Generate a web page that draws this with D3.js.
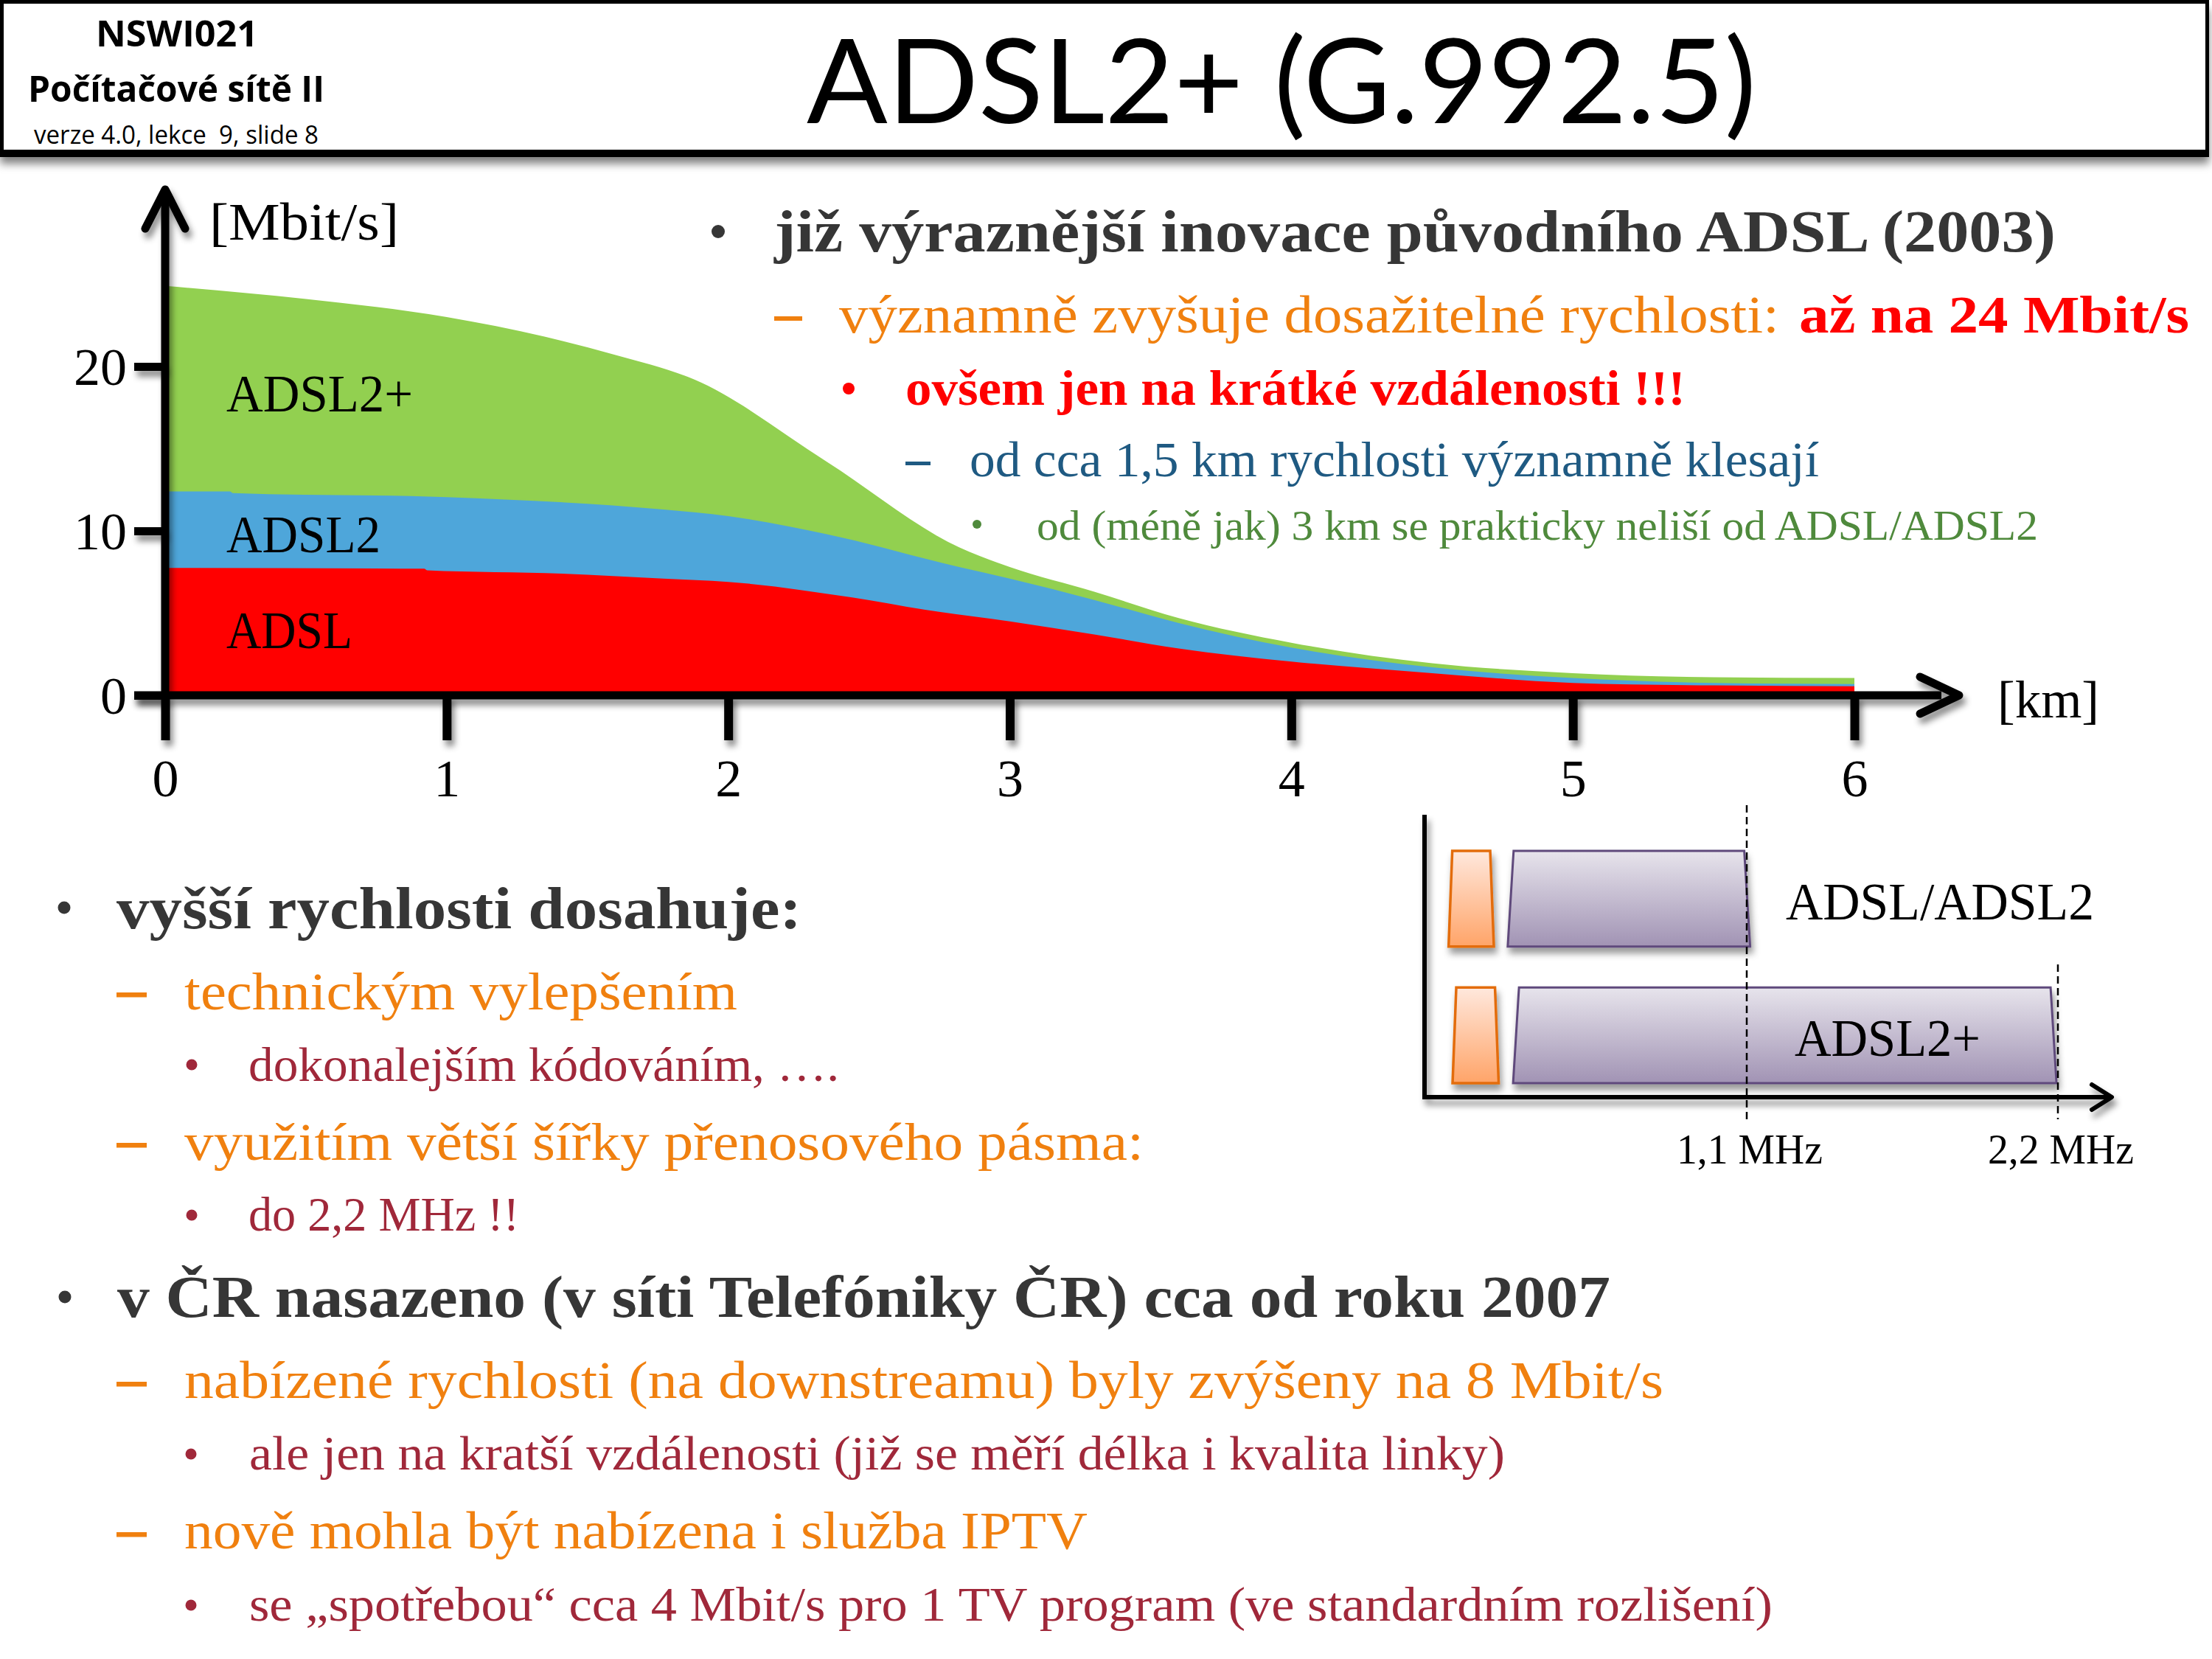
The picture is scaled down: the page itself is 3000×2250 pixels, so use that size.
<!DOCTYPE html>
<html><head><meta charset="utf-8">
<script src="https://cdn.jsdelivr.net/npm/d3@7"></script>
<style>html,body{margin:0;padding:0;background:#fff;} svg{display:block;}</style>
</head><body><div id="chart"></div>
<script>
// ---------------- DATA ----------------
const distanceTicks = [0, 1, 2, 3, 4, 5, 6];          // km
const rateTicks = [0, 10, 20];                         // Mbit/s
// [distance km, rate Mbit/s]
const adsl2plusRate = [[0,24.9],[0.5,24.1],[1.0,23.0],[1.35,21.8],[1.6,20.7],[1.88,19.2],[2.35,14.2],[2.82,9.0],[3.0,7.8],[3.3,6.3],[3.6,4.7],[4.0,3.2],[4.5,1.95],[5.0,1.35],[5.5,1.1],[6.0,1.05]];
const adsl2Rate     = [[0,12.4],[0.23,12.4],[0.24,12.3],[1.0,12.05],[1.77,11.3],[2.0,10.9],[2.35,9.8],[2.82,7.8],[3.0,7.1],[3.3,5.8],[3.6,4.4],[4.0,2.9],[4.5,1.7],[5.0,1.05],[5.5,0.75],[6.0,0.68]];
const adslRate      = [[0,7.75],[0.92,7.7],[0.93,7.6],[1.41,7.4],[1.77,7.1],[2.0,6.9],[2.44,5.95],[2.7,5.2],[3.0,4.5],[3.3,3.7],[3.6,2.85],[4.0,2.05],[4.5,1.35],[5.0,0.75],[5.5,0.6],[6.0,0.55]];
const seriesNames = ["ADSL2+", "ADSL2", "ADSL"];
const axisUnitY = "[Mbit/s]";
const axisUnitX = "[km]";

const freqMarksMHz = [1.1, 2.2];
const freqMarkLabels = ["1,1 MHz", "2,2 MHz"];
const spectrumRows = ["ADSL/ADSL2", "ADSL2+"];
const upstreamBandMHz = [[0.046, 0.206], [0.060, 0.223]];
const downstreamBandMHz = [[0.255, 1.112], [0.274, 2.195]];

const headerCourse = "NSWI021";
const headerSubject = "Počítačové sítě II";
const headerVersion = "verze 4.0, lekce  9, slide 8";
const slideTitle = "ADSL2+ (G.992.5)";

const topBullets = [
  "již výraznější inovace původního ADSL (2003)",
  "významně zvyšuje dosažitelné rychlosti:",
  "až na 24 Mbit/s",
  "ovšem jen na krátké vzdálenosti !!!",
  "od cca 1,5 km rychlosti významně klesají",
  "od (méně jak) 3 km se prakticky neliší od ADSL/ADSL2"
];
const bottomBullets = [
  "vyšší rychlosti dosahuje:",
  "technickým vylepšením",
  "dokonalejším kódováním, ….",
  "využitím větší šířky přenosového pásma:",
  "do 2,2 MHz !!",
  "v ČR nasazeno (v síti Telefóniky ČR) cca od roku 2007",
  "nabízené rychlosti (na downstreamu) byly zvýšeny na 8 Mbit/s",
  "ale jen na kratší vzdálenosti (již se měří délka i kvalita linky)",
  "nově mohla být nabízena i služba IPTV",
  "se „spotřebou“ cca 4 Mbit/s pro 1 TV program (ve standardním rozlišení)"
];

// ---------------- DRAWING ----------------
const W = 3000, H = 2250;
const SERIF = "'Liberation Serif', 'DejaVu Serif', serif";
const SANS = "'Open Sans', 'Noto Sans', sans-serif";
const TITLE = "Lato, 'Open Sans', sans-serif";
const C = {dark:"#363636", orange:"#F0800F", red:"#FF0000", wine:"#A0283A", navy:"#1F5A82", olive:"#4F8A3C",
           green:"#92D050", blue:"#4EA6DA", area:"#FF0000"};

const svg = d3.select("#chart").append("svg").attr("width", W).attr("height", H).attr("viewBox", `0 0 ${W} ${H}`);
const defs = svg.append("defs");
function shadow(id, dx, dy, sd, op) {
  const f = defs.append("filter").attr("id", id).attr("filterUnits", "userSpaceOnUse")
    .attr("x", -W).attr("y", -H).attr("width", 3 * W).attr("height", 3 * H);
  f.append("feDropShadow").attr("dx", dx).attr("dy", dy).attr("stdDeviation", sd)
    .attr("flood-color", "#000").attr("flood-opacity", op);
}
shadow("sh", 4, 8, 4, 0.45);
shadow("shHdr", 0, 12, 6, 0.5);
shadow("shBox", 3, 8, 5, 0.4);
function vgrad(id, c0, c1) {
  const g = defs.append("linearGradient").attr("id", id).attr("x1", 0).attr("y1", 0).attr("x2", 0).attr("y2", 1);
  g.append("stop").attr("offset", "0%").attr("stop-color", c0);
  g.append("stop").attr("offset", "100%").attr("stop-color", c1);
}
vgrad("gOrange", "#FFE8DD", "#FFA468");
vgrad("gPurple", "#E7E4EC", "#A193B4");

function txt(x, y, s, o) {
  const t = svg.append("text").attr("x", x).attr("y", y).text(s)
    .attr("font-family", o.font || SERIF).attr("font-size", o.size)
    .attr("font-weight", o.weight || "normal").attr("fill", o.fill || "#000")
    .attr("text-anchor", o.anchor || "start").style("white-space", "pre");
  if (o.len) t.attr("textLength", o.len).attr("lengthAdjust", "spacingAndGlyphs");
  return t;
}
const bullet = (cx, cy, r, fill) => svg.append("circle").attr("cx", cx).attr("cy", cy).attr("r", r).attr("fill", fill);
const dash = (x, y, w, h, fill) => svg.append("rect").attr("x", x).attr("y", y).attr("width", w).attr("height", h).attr("fill", fill);

// Header
svg.append("rect").attr("x", 2.5).attr("y", 2.5).attr("width", 2991).attr("height", 205)
  .attr("fill", "#fff").attr("stroke", "#000").attr("stroke-width", 5).attr("filter", "url(#shHdr)");
svg.append("rect").attr("x", 0).attr("y", 203).attr("width", 2996).attr("height", 10).attr("fill", "#000");
txt(240, 63, headerCourse, {font: SANS, size: 48, weight: "bold", anchor: "middle", len: 220});
txt(239, 138, headerSubject, {font: SANS, size: 49, weight: "bold", anchor: "middle", len: 402});
txt(239, 195, headerVersion, {font: SANS, size: 35, anchor: "middle", len: 386});
txt(1094, 167, slideTitle, {font: TITLE, size: 160, len: 1288});

// Main chart
const x = d3.scaleLinear().domain([0, 6]).range([224, 2515]);
const y = d3.scaleLinear().domain([0, 20]).range([943, 497]);
const area = d3.area().x(d => x(d[0])).y0(y(0)).y1(d => y(d[1])).curve(d3.curveMonotoneX);
const chart = svg.append("g");
[[adsl2plusRate, C.green], [adsl2Rate, C.blue], [adslRate, C.area]].forEach(([data, col]) => {
  chart.append("path").datum(data).attr("d", area).attr("fill", col);
});
// series labels (baselines in px, widths in px)
[[seriesNames[0], 558, 253], [seriesNames[1], 749, 209], [seriesNames[2], 879, 171]].forEach(([name, by, len]) => {
  txt(307, by, name, {size: 72, len: len});
});

const axes = svg.append("g").attr("filter", "url(#sh)");
axes.append("line").attr("x1", 182).attr("x2", 2633).attr("y1", y(0)).attr("y2", y(0))
  .attr("stroke", "#000").attr("stroke-width", 11);
axes.append("polyline").attr("points", `${2604},${y(0) - 25} ${2657},${y(0)} ${2604},${y(0) + 25}`)
  .attr("fill", "none").attr("stroke", "#000").attr("stroke-width", 11).attr("stroke-linecap", "round").attr("stroke-linejoin", "round");
axes.append("line").attr("x1", x(0)).attr("x2", x(0)).attr("y1", 262).attr("y2", y(0))
  .attr("stroke", "#000").attr("stroke-width", 11);
axes.append("polyline").attr("points", `${x(0) - 27},${310} ${x(0)},${257} ${x(0) + 27},${310}`)
  .attr("fill", "none").attr("stroke", "#000").attr("stroke-width", 11).attr("stroke-linecap", "round").attr("stroke-linejoin", "round");

const xAxis = d3.axisBottom(x).tickValues(distanceTicks).tickSizeInner(61).tickSizeOuter(0).tickFormat(d3.format("d"));
const gx = svg.append("g").attr("transform", `translate(0,${y(0)})`).call(xAxis);
gx.select(".domain").remove();
gx.selectAll(".tick line").attr("stroke", "#000").attr("stroke-width", 12).attr("filter", "url(#sh)");
gx.selectAll(".tick text").attr("y", 137).attr("dy", null).attr("font-family", SERIF).attr("font-size", 72).attr("fill", "#000");

const yAxis = d3.axisLeft(y).tickValues(rateTicks).tickSizeInner(42).tickSizeOuter(0).tickPadding(10);
const gy = svg.append("g").attr("transform", `translate(${x(0)},0)`).call(yAxis);
gy.select(".domain").remove();
gy.selectAll(".tick line").attr("stroke", "#000").attr("stroke-width", 11).attr("filter", "url(#sh)");
gy.selectAll(".tick text").attr("dy", null).attr("y", 24).attr("font-family", SERIF).attr("font-size", 72).attr("fill", "#000");

txt(284, 325, axisUnitY, {size: 72, len: 257});
txt(2709, 973, axisUnitX, {size: 72, len: 138});

// Top-right bullets
bullet(974, 314, 9, C.dark);
txt(1050, 341, topBullets[0], {size: 80, weight: "bold", fill: C.dark, len: 1738});
dash(1050, 429, 38, 6, C.orange);
txt(1138, 451, topBullets[1], {size: 72, fill: C.orange, len: 1275});
txt(2440, 451, topBullets[2], {size: 72, weight: "bold", fill: C.red, len: 529});
bullet(1151, 527, 8, C.red);
txt(1228, 549, topBullets[3], {size: 67, weight: "bold", fill: C.red, len: 1058});
dash(1228, 626, 34, 5, C.navy);
txt(1315, 646, topBullets[4], {size: 67, fill: C.navy, len: 1152});
bullet(1325, 711, 6, C.olive);
txt(1406, 732, topBullets[5], {size: 57, fill: C.olive, len: 1358});

// Bottom-left bullets
bullet(87, 1231, 8.5, C.dark);
txt(158, 1259, bottomBullets[0], {size: 80, weight: "bold", fill: C.dark, len: 929});
dash(158, 1346, 41, 6.5, C.orange);
txt(250, 1369, bottomBullets[1], {size: 72, fill: C.orange, len: 750});
bullet(260, 1444, 7.5, C.wine);
txt(337, 1466, bottomBullets[2], {size: 65, fill: C.wine, len: 801});
dash(158, 1550, 41, 6.5, C.orange);
txt(250, 1573, bottomBullets[3], {size: 72, fill: C.orange, len: 1301});
bullet(260, 1648, 7.5, C.wine);
txt(337, 1669, bottomBullets[4], {size: 65, fill: C.wine, len: 367});
bullet(88, 1759, 8.5, C.dark);
txt(159, 1786, bottomBullets[5], {size: 80, weight: "bold", fill: C.dark, len: 2025});
dash(158, 1874, 41, 6.5, C.orange);
txt(250, 1896, bottomBullets[6], {size: 72, fill: C.orange, len: 2006});
bullet(259, 1972, 7.5, C.wine);
txt(338, 1993, bottomBullets[7], {size: 65, fill: C.wine, len: 1703});
dash(158, 2078, 41, 6.5, C.orange);
txt(250, 2100, bottomBullets[8], {size: 72, fill: C.orange, len: 1225});
bullet(259, 2177, 7.5, C.wine);
txt(338, 2198, bottomBullets[9], {size: 65, fill: C.wine, len: 2066});

// Spectrum diagram
const f = d3.scaleLinear().domain([0, 2.2]).range([1947, 2791]);
const rowY = d3.scaleBand().domain(spectrumRows).range([1154, 1469]).paddingInner(0.3);
const trap = (b, row, inset) => {
  const y0 = rowY(row), y1 = y0 + rowY.bandwidth();
  const x0 = f(b[0]), x1 = f(b[1]);
  return `M${x0 + inset},${y0}L${x1 - inset},${y0}L${x1},${y1}L${x0},${y1}Z`;
};
const spec = svg.append("g");
spectrumRows.forEach((row, i) => {
  spec.append("path").attr("d", trap(upstreamBandMHz[i], row, 5)).attr("fill", "url(#gOrange)")
    .attr("stroke", "#E36C09").attr("stroke-width", 3.5).attr("filter", "url(#shBox)");
  spec.append("path").attr("d", trap(downstreamBandMHz[i], row, 8)).attr("fill", "url(#gPurple)")
    .attr("stroke", "#5F4A7B").attr("stroke-width", 3).attr("filter", "url(#shBox)");
});
const specAxes = svg.append("g").attr("filter", "url(#sh)");
specAxes.append("line").attr("x1", 1932).attr("x2", 1932).attr("y1", 1105).attr("y2", 1491).attr("stroke", "#000").attr("stroke-width", 6);
specAxes.append("line").attr("x1", 1929).attr("x2", 2862).attr("y1", 1488).attr("y2", 1488).attr("stroke", "#000").attr("stroke-width", 6);
specAxes.append("polyline").attr("points", `2837,1471 2864,1488 2837,1505`).attr("fill", "none")
  .attr("stroke", "#000").attr("stroke-width", 6).attr("stroke-linecap", "round").attr("stroke-linejoin", "round");
const dashTop = [1092, 1308];
freqMarksMHz.forEach((m, i) => {
  svg.append("line").attr("x1", f(m)).attr("x2", f(m)).attr("y1", dashTop[i]).attr("y2", 1518)
    .attr("stroke", "#000").attr("stroke-width", 2.5).attr("stroke-dasharray", "10 6");
  txt(f(m) + 4, 1578, freqMarkLabels[i], {size: 56, anchor: "middle", len: 198});
});
txt(2422, 1247, spectrumRows[0], {size: 71, len: 418});
txt(2434, 1432, spectrumRows[1], {size: 71, len: 252});
</script>
</body></html>
